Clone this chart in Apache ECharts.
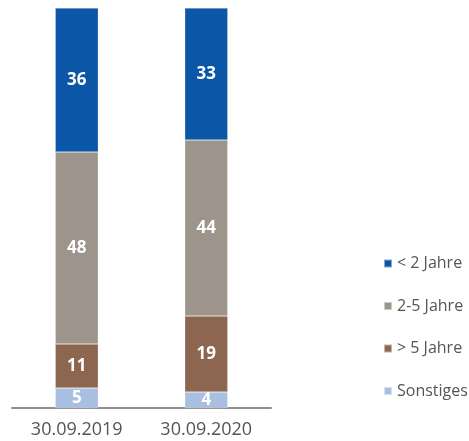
<!DOCTYPE html>
<html>
<head>
<meta charset="utf-8">
<script src="https://cdn.jsdelivr.net/npm/echarts@6/dist/echarts.min.js"></script>
<style>
  html, body { margin: 0; padding: 0; background: #fff; }
  #chart { width: 469px; height: 441px; }
</style>
</head>
<body>
<div id="chart"></div>
<script>
// Laufzeitverteilung in %
var categories = ['30.09.2019', '30.09.2020'];
var sonstiges = [5, 4];
var ueber5 = [11, 19];
var zweiBisFuenf = [48, 44];
var unter2 = [36, 33];
var legendNames = ['< 2 Jahre', '2-5 Jahre', '> 5 Jahre', 'Sonstiges'];

var fontName = '"Open Sans", "Noto Sans", sans-serif';

function seg(name, data, color) {
  return {
    name: name,
    type: 'bar',
    stack: 'total',
    barWidth: 43,
    data: data,
    itemStyle: {
      color: color,
      borderColor: 'rgba(255,255,255,0.5)',
      borderWidth: 0.5
    },
    label: {
      show: true,
      position: 'inside',
      color: '#fff',
      fontFamily: fontName,
      fontWeight: 'bold',
      fontSize: 17
    }
  };
}

var myChart = echarts.init(document.getElementById('chart'));
var option = {
  animation: false,
  grid: { left: 12, width: 259, top: 8, bottom: 33 },
  legend: {
    data: legendNames,
    orient: 'vertical',
    left: 378,
    top: 250,
    itemWidth: 8,
    itemHeight: 8,
    itemGap: 25.5,
    icon: 'rect',
    textStyle: { color: '#555', fontFamily: fontName, fontSize: 16, lineHeight: 17 }
  },
  xAxis: {
    type: 'category',
    data: categories,
    axisLine: { lineStyle: { color: '#8f8f8f', width: 2 } },
    axisTick: { show: false },
    axisLabel: { color: '#555', fontFamily: fontName, fontSize: 18, margin: 13 }
  },
  yAxis: {
    type: 'value',
    min: 0,
    max: 100,
    show: false
  },
  series: [
    seg('Sonstiges', sonstiges, '#a9bfe2'),
    seg('> 5 Jahre', ueber5, '#8d6650'),
    seg('2-5 Jahre', zweiBisFuenf, '#9d958b'),
    seg('< 2 Jahre', unter2, '#0c56a7')
  ]
};
myChart.setOption(option);
</script>
</body>
</html>
